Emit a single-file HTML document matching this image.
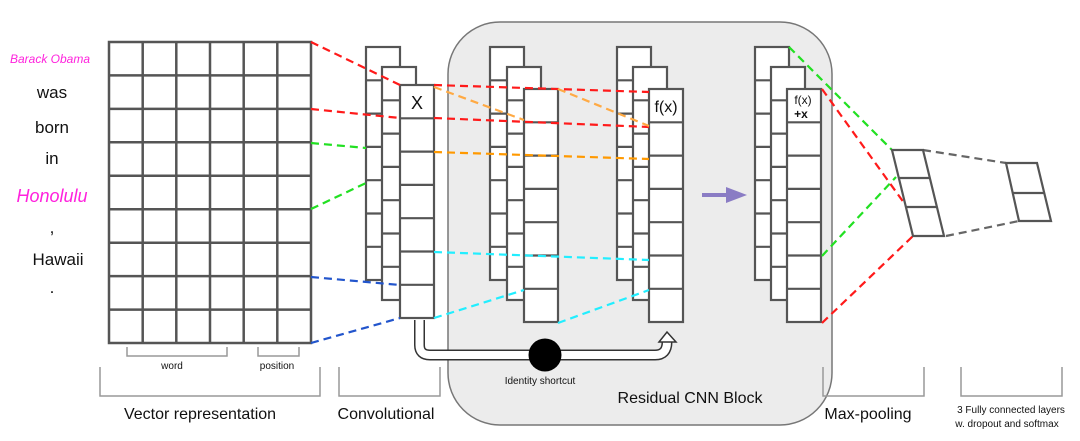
<!DOCTYPE html>
<html><head><meta charset="utf-8"><style>
body{margin:0;background:#fff;}
svg{display:block;font-family:"Liberation Sans",Arial,sans-serif;}
</style></head><body>
<svg width="1080" height="441" viewBox="0 0 1080 441" xmlns="http://www.w3.org/2000/svg">
<!-- residual block -->
<rect x="448" y="22" width="384" height="403" rx="52" fill="#ececec" stroke="#777" stroke-width="1.5"/>

<!-- words -->
<g text-anchor="middle" font-size="17" fill="#111">
<text x="50" y="63" font-size="12" fill="#ff22dd" font-style="italic">Barack Obama</text>
<text x="52" y="98">was</text>
<text x="52" y="133">born</text>
<text x="52" y="164">in</text>
<text x="52" y="202" fill="#ff22dd" font-style="italic" font-size="18">Honolulu</text>
<text x="52" y="233">,</text>
<text x="58" y="265">Hawaii</text>
<text x="52" y="293">.</text>
</g>

<!-- grid -->
<g stroke="#555" stroke-width="2.5" fill="#fff">
<rect x="109" y="42" width="202" height="301"/>
<path d="M142.7,42V343M176.3,42V343M210,42V343M243.7,42V343M277.3,42V343
M109,75.4H311M109,108.9H311M109,142.3H311M109,175.8H311M109,209.2H311M109,242.7H311M109,276.1H311M109,309.6H311" fill="none"/>
</g>

<!-- column stacks -->
<g stroke="#555" stroke-width="2.2" fill="#fff">
<defs>
<g id="col"><rect x="0" y="0" width="34" height="233"/><path d="M0,33.3H34M0,66.6H34M0,99.9H34M0,133.2H34M0,166.5H34M0,199.8H34" fill="none"/></g>
</defs>
<use href="#col" x="366" y="47"/><use href="#col" x="382" y="67"/><use href="#col" x="400" y="85"/>
<use href="#col" x="490" y="47"/><use href="#col" x="507" y="67"/><use href="#col" x="524" y="89"/>
<use href="#col" x="617" y="47"/><use href="#col" x="633" y="67"/><use href="#col" x="649" y="89"/>
<use href="#col" x="755" y="47"/><use href="#col" x="771" y="67"/><use href="#col" x="787" y="89"/>
</g>
<text x="417" y="109" font-size="18" text-anchor="middle" fill="#111">X</text>
<text x="666" y="112" font-size="16" text-anchor="middle" fill="#111">f(x)</text>
<text x="803" y="104" font-size="12" text-anchor="middle" fill="#111">f(x)</text>
<text x="801" y="118" font-size="12" text-anchor="middle" fill="#111" font-weight="bold">+x</text>

<!-- dashed connectors -->
<g stroke-width="2.2" stroke-dasharray="8,5" fill="none">
<path d="M311,42L400,85M311,109L400,118" stroke="#ff1a1a"/>
<path d="M311,143L366,148M311,209L366,183" stroke="#22e022"/>
<path d="M311,277L400,285M311,343L400,318" stroke="#2255cc"/>
<path d="M434,85L649,92M434,118L649,127" stroke="#ff1a1a"/>
<path d="M434,87L524,120M558,89L649,126" stroke="#ffaa44"/>
<path d="M434,152L649,159" stroke="#ff9900"/>
<path d="M434,252L649,260M434,318L524,290M558,323L649,290" stroke="#22eeff"/>
<path d="M789,47L892,150M822,256L896,177" stroke="#22e022"/>
<path d="M822,89L907,207M822,323L913,236" stroke="#ff1a1a"/>
<path d="M923,150L1006,163M946,236L1019,221" stroke="#666"/>
</g>

<!-- purple arrow -->
<line x1="702" y1="195" x2="730" y2="195" stroke="#8a7cc4" stroke-width="4"/>
<polygon points="726,187 747,195 726,203" fill="#8a7cc4"/>

<!-- max pool -->
<g stroke="#555" stroke-width="2.2" fill="#fff">
<polygon points="892,150 923,150 944,236 913,236"/>
<path d="M899,178H930M906,207H937" fill="none"/>
<polygon points="1006,163 1037,163 1051,221 1019,221"/>
<path d="M1012,193H1044" fill="none"/>
</g>

<!-- identity shortcut -->
<path d="M419.5,320V345Q419.5,355 430,355H655Q667,355 667,342V338" fill="none" stroke="#333" stroke-width="11"/>
<path d="M419.5,320V345Q419.5,355 430,355H655Q667,355 667,342V338" fill="none" stroke="#fff" stroke-width="8"/>
<polygon points="659,342 667,332 676,342" fill="#fff" stroke="#333" stroke-width="1.5"/>
<circle cx="545" cy="355" r="16.5" fill="#000"/>
<text x="540" y="384" font-size="10" text-anchor="middle" fill="#111">Identity shortcut</text>
<text x="690" y="403" font-size="16" text-anchor="middle" fill="#111">Residual CNN Block</text>

<!-- brackets -->
<g stroke="#999" stroke-width="1.5" fill="none">
<path d="M127,347V356H227V347M258,347V356H299V347"/>
<path d="M100,367V396H320V367M339,367V396H440V367M823,367V396H924V367M961,367V396H1062V367"/>
</g>
<g text-anchor="middle" fill="#111">
<text x="172" y="369" font-size="10">word</text>
<text x="277" y="369" font-size="10">position</text>
<text x="200" y="419" font-size="16">Vector representation</text>
<text x="386" y="419" font-size="16">Convolutional</text>
<text x="868" y="419" font-size="16">Max-pooling</text>
<text x="1011" y="413" font-size="10">3 Fully connected layers</text>
<text x="1007" y="427" font-size="10">w. dropout and softmax</text>
</g>
</svg>
</body></html>
